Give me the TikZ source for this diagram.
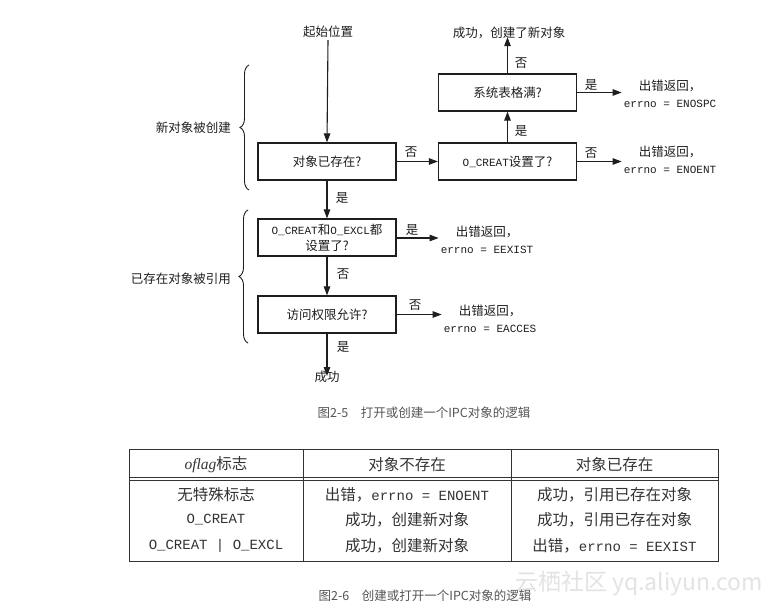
\documentclass[tikz,border=0pt]{standalone}
\usepackage{fontspec}
\setmainfont{Noto Sans CJK SC}
\newfontfamily\monofam{Liberation Mono}
\newfontfamily\seriffam{Liberation Serif}
\usetikzlibrary{arrows.meta,decorations.pathreplacing}
\definecolor{ink}{HTML}{1E1E1E}
\definecolor{tabink}{HTML}{333333}
\definecolor{capgray}{HTML}{555555}
\newcommand\fs{\fontsize{12.5}{16}\selectfont}
\newcommand\ms{\monofam\fontsize{11}{16}\selectfont}
\newcommand\tfs{\fontsize{15.5}{18}\selectfont}
\newcommand\tms{\monofam\fontsize{14}{18}\selectfont}
\begin{document}
\begin{tikzpicture}[x=1pt,y=-1pt,
  flowbox/.style={draw=ink,line width=1.2pt,minimum width=138pt,minimum height=37pt,inner sep=2pt,text=ink,font=\fs,align=center},
  lbl/.style={inner sep=0pt,text=ink,font=\fs},
  errtxt/.style={inner sep=2pt,text=ink,font=\fontsize{12.5}{17}\selectfont,align=center},
  arr/.style={draw=ink,line width=1.1pt,-{Triangle[length=9pt,width=6.5pt]}},
  bracestyle/.style={draw=ink,line width=0.9pt,decorate,decoration={brace,amplitude=9pt}},
  tcell/.style={inner sep=0pt,text=tabink,font=\tfs},
  tline/.style={draw=tabink,line width=0.9pt}
]
\fill[white] (0,0) rectangle (778,607);
\useasboundingbox (0,0) rectangle (778,607);

% ---------- flowchart ----------
\node[lbl] (start) at (328,32) {起始位置};
\node[flowbox] (b1) at (327,161.5) {对象已存在?};
\node[flowbox] (b2) at (327,237.5) {{\ms O\_CREAT}和{\ms O\_EXCL}都\\设置了?};
\node[flowbox] (b3) at (327,314.5) {访问权限允许?};
\node[lbl] (ok) at (327,377) {成功};
\node[flowbox] (b4) at (507.5,161.5) {{\ms O\_CREAT}设置了?};
\node[flowbox] (b5) at (507.5,92.5) {系统表格满?};
\node[lbl] (newobj) at (509,33) {成功，创建了新对象};

\node[errtxt] (e1) at (670,93.5) {出错返回，\\{\ms errno = ENOSPC}};
\node[errtxt] (e2) at (670,160) {出错返回，\\{\ms errno = ENOENT}};
\node[errtxt] (e3) at (487,240) {出错返回，\\{\ms errno = EEXIST}};
\node[errtxt] (e4) at (490,319) {出错返回，\\{\ms errno = EACCES}};

\draw[arr] (start.south) ++(0,2) -- (b1.north);
\draw[arr] (b1.east) -- (b4.west);
\draw[arr] (b4.north) -- (b5.south);
\draw[arr] (b5.north) -- ([yshift=2pt]newobj.south -| b5.north);
\draw[arr] (b5.east) -- (b5.east -| e1.west);
\draw[arr] (b4.east) -- (b4.east -| e2.west);
\draw[arr] (b1.south) -- (b2.north);
\draw[arr] ([yshift=-0.5pt]b2.east) -- ([yshift=-0.5pt]b2.east -| e3.west);
\draw[arr] (b2.south) -- (b3.north);
\draw[arr] (b3.east) -- (b3.east -| e4.west);
\draw[arr] (b3.south) -- ([yshift=-5pt]ok.north);

\node[lbl] (l1) at (411,152) {否};
\node[lbl] (l2) at (342,198) {是};
\node[lbl] (l3) at (521,131) {是};
\node[lbl] (l4) at (521,63) {否};
\node[lbl] (l5) at (591,85) {是};
\node[lbl] (l6) at (591,153) {否};
\node[lbl] (l7) at (412,230) {是};
\node[lbl] (l8) at (343,274) {否};
\node[lbl] (l9) at (415,305) {否};
\node[lbl] (l10) at (343,347) {是};

% braces
\draw[bracestyle] (249,190) -- (249,65);
\draw[bracestyle] (248,343) -- (248,210);
\node[lbl,anchor=east] (g1) at (231,128) {新对象被创建};
\node[lbl,anchor=east] (g2) at (231,279) {已存在对象被引用};

\node[inner sep=0pt,text=capgray,font=\fontsize{12.5}{14}\selectfont] (cap1) at (424,413) {图2-5\quad 打开或创建一个IPC对象的逻辑};

% ---------- table ----------
\draw[tline] (129,449) rectangle (718,561);
\draw[tline] (129,477) -- (718,477);
\draw[tline] (129,480.5) -- (718,480.5);
\draw[tline] (303,449) -- (303,561);
\draw[tline] (511,449) -- (511,561);

\node[tcell] (h1) at (216,465) {{\seriffam\itshape oflag}标志};
\node[tcell] (h2) at (407,465) {对象不存在};
\node[tcell] (h3) at (614.5,465) {对象已存在};

\node[tcell] (r11) at (216,495) {无特殊标志};
\node[tcell] (r12) at (216,520) {\tms O\_CREAT};
\node[tcell] (r13) at (216,546) {\tms O\_CREAT | O\_EXCL};

\node[tcell] (r21) at (407,495) {出错，{\tms errno = ENOENT}};
\node[tcell] (r22) at (407,520) {成功，创建新对象};
\node[tcell] (r23) at (407,546) {成功，创建新对象};

\node[tcell] (r31) at (614.5,495) {成功，引用已存在对象};
\node[tcell] (r32) at (614.5,520) {成功，引用已存在对象};
\node[tcell] (r33) at (614.5,546) {出错，{\tms errno = EEXIST}};

\node[inner sep=0pt,text=gray!22,font=\fontsize{23}{26}\selectfont] (wm) at (639,583) {云栖社区 yq.aliyun.com};
\node[inner sep=0pt,text=capgray,font=\fontsize{12.5}{14}\selectfont] (cap2) at (425,596) {图2-6\quad 创建或打开一个IPC对象的逻辑};
\end{tikzpicture}
\end{document}
